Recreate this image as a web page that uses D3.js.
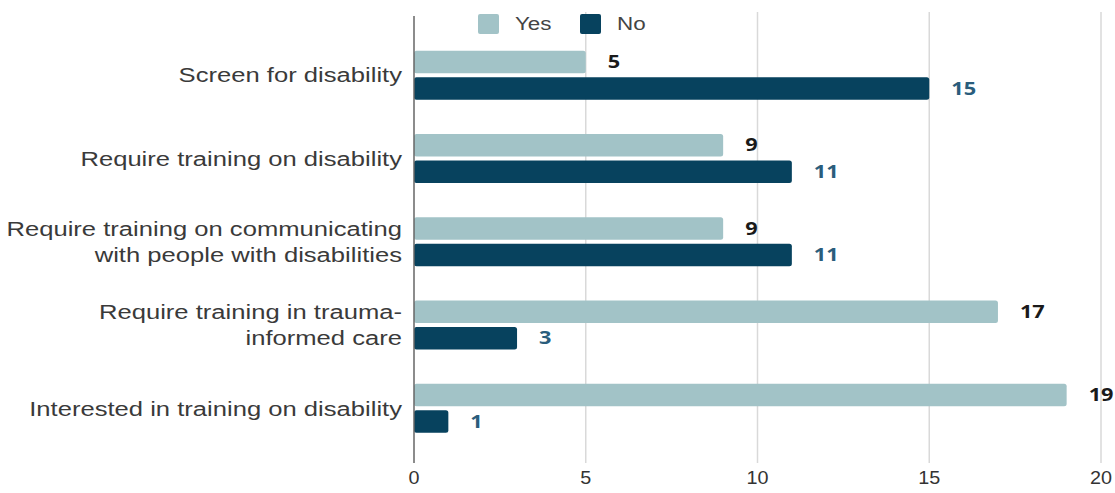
<!DOCTYPE html>
<html><head><meta charset="utf-8">
<script src="https://cdn.jsdelivr.net/npm/d3@7"></script>
<style>body{margin:0;background:#fff;}svg{display:block;}</style>
</head><body>
<svg id="c" width="1115" height="493"></svg>
<script>
const categories = [
  ["Screen for disability"],
  ["Require training on disability"],
  ["Require training on communicating", "with people with disabilities"],
  ["Require training in trauma-", "informed care"],
  ["Interested in training on disability"]
];
const yesValues = [5, 9, 9, 17, 19];
const noValues = [15, 11, 11, 3, 1];
const seriesNames = ["Yes", "No"];
const xTicks = [0, 5, 10, 15, 20];
const colors = {Yes: "#a2c3c7", No: "#07425e"};
const labelColors = {Yes: "#1a1a1a", No: "#2a5d7c"};
const SX = 1.28; // horizontal stretch of texts in the reference

const stretch = (ax) => `translate(${ax},0) scale(${SX},1) translate(${-ax},0)`;

const svg = d3.select("#c");
const x = d3.scaleLinear().domain([0, 20]).range([414, 1101]);
const idx = categories.map((d, i) => i);
const y = d3.scaleBand().domain(idx).range([33.5, 450]).paddingInner(0).paddingOuter(0);
const barH = 22.5, gap = 4;

// grid
svg.append("g").selectAll("line").data(xTicks.slice(1)).join("line")
  .attr("x1", d => x(d)).attr("x2", d => x(d))
  .attr("y1", 12).attr("y2", 463)
  .attr("stroke", "#d9d9d9").attr("stroke-width", 1.5);

// x tick labels
svg.append("g").selectAll("text").data(xTicks).join("text")
  .attr("x", d => x(d)).attr("y", 478).attr("dy", "0.36em")
  .attr("text-anchor", "middle")
  .attr("transform", d => `translate(${x(d)},0) scale(1.1,1) translate(${-x(d)},0)`)
  .attr("font-family", "Liberation Sans, Arial, sans-serif")
  .attr("font-size", 18).attr("fill", "#333").text(d => d);

// bars
const series = [
  {name: "Yes", values: yesValues, off: -barH - gap/2},
  {name: "No", values: noValues, off: gap/2}
];
series.forEach(s => {
  const g = svg.append("g");
  g.selectAll("rect").data(s.values).join("rect")
    .attr("x", x(0)).attr("y", (d, i) => y(i) + y.bandwidth()/2 + s.off)
    .attr("width", d => x(d) - x(0)).attr("height", barH)
    .attr("rx", 2.5).attr("fill", colors[s.name]);
  g.selectAll("text").data(s.values).join("text")
    .attr("x", d => x(d) + 22).attr("y", (d, i) => y(i) + y.bandwidth()/2 + s.off + barH/2)
    .attr("dy", "0.36em")
    .attr("transform", d => stretch(x(d) + 22))
    .attr("font-family", "Open Sans, sans-serif").attr("font-weight", 700)
    .attr("font-size", 17).attr("fill", labelColors[s.name])
    .text(d => d);
});

// y axis line
svg.append("line").attr("x1", x(0)).attr("x2", x(0)).attr("y1", 16).attr("y2", 463)
  .attr("stroke", "#666").attr("stroke-width", 1.5);

// category labels
const cl = svg.append("g");
categories.forEach((lines, i) => {
  const cy = y(i) + y.bandwidth()/2;
  const t = cl.append("text").attr("text-anchor", "end")
    .attr("transform", stretch(402))
    .attr("font-family", "Liberation Sans, Arial, sans-serif").attr("font-size", 20)
    .attr("fill", "#3a3a3a");
  const lh = 26;
  lines.forEach((ln, j) => {
    t.append("tspan").attr("x", 402)
      .attr("y", cy + (j - (lines.length - 1)/2) * lh).attr("dy", "0.36em").text(ln);
  });
});

// legend
const lg = svg.append("g");
const legendX = [478, 580];
seriesNames.forEach((n, i) => {
  lg.append("rect").attr("x", legendX[i]).attr("y", 14).attr("width", 21).attr("height", 20)
    .attr("rx", 2).attr("fill", colors[n]);
  lg.append("text").attr("x", legendX[i] + 37).attr("y", 24).attr("dy", "0.36em")
    .attr("transform", stretch(legendX[i] + 37))
    .attr("font-family", "Liberation Sans, Arial, sans-serif").attr("font-size", 17.5)
    .attr("fill", "#444").text(n);
});
</script>
</body></html>
